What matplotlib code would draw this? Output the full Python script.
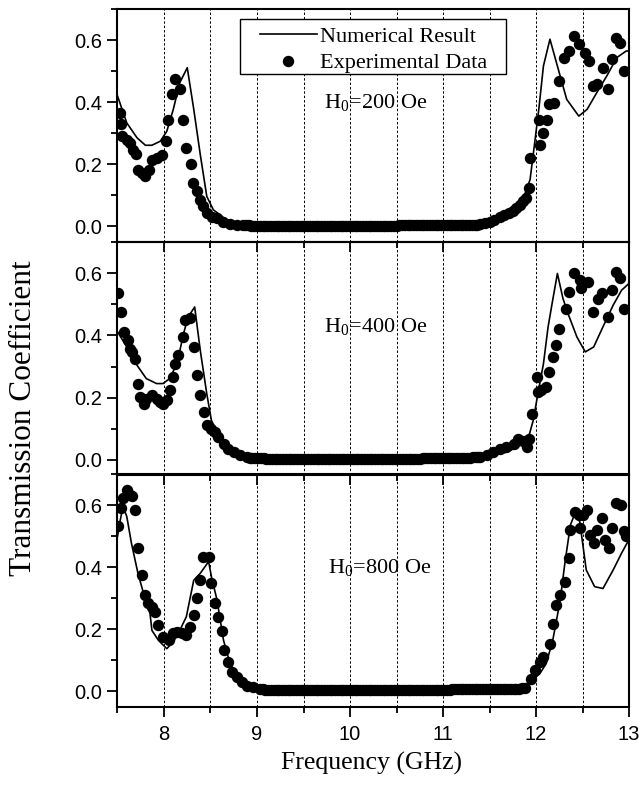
import matplotlib
matplotlib.use("Agg")
import matplotlib.pyplot as plt
from matplotlib.ticker import MultipleLocator, FixedLocator
from matplotlib.lines import Line2D
from matplotlib.patches import Rectangle

# ---------------- data ----------------
freq_ticks = [8, 9, 10, 11, 12, 13]
y_ticks = [0.0, 0.2, 0.4, 0.6]
grid_freqs = [8, 8.5, 9, 9.5, 10, 10.5, 11, 11.5, 12, 12.5]
field_labels = ["H$_0$=200 Oe", "H$_0$=400 Oe", "H$_0$=800 Oe"]
legend_labels = ["Numerical Result", "Experimental Data"]

# ---- H0 = 200 Oe ----
top_num_x = [7.5, 7.6, 7.71, 7.8, 7.87, 7.96, 8.03, 8.1, 8.17, 8.25, 8.32, 8.39, 8.46, 8.53, 8.67, 8.85,
             9.03, 10.0, 11.0, 11.4, 11.6, 11.75, 11.85, 11.936, 11.99, 12.03, 12.08, 12.15, 12.26, 12.33,
             12.46, 12.55, 12.65, 12.76, 12.87, 12.97, 13.0]
top_num_y = [0.421, 0.334, 0.286, 0.262, 0.262, 0.275, 0.307, 0.378, 0.464, 0.512, 0.378, 0.232, 0.097,
             0.054, 0.022, 0.009, 0.003, 0.002, 0.003, 0.006, 0.02, 0.045, 0.08, 0.151, 0.28, 0.378, 0.518,
             0.604, 0.485, 0.41, 0.356, 0.378, 0.43, 0.485, 0.545, 0.566, 0.566]
top_exp_left_x = [7.527, 7.538, 7.552, 7.599, 7.634, 7.670, 7.699, 7.724, 7.760, 7.796, 7.842, 7.867,
                  7.921, 7.975, 8.021, 8.047, 8.082, 8.118, 8.172, 8.200, 8.236, 8.290, 8.315, 8.351,
                  8.387, 8.423, 8.458, 8.512, 8.566, 8.638, 8.710, 8.780]
top_exp_left_y = [0.367, 0.329, 0.291, 0.280, 0.270, 0.248, 0.235, 0.183, 0.173, 0.162, 0.183, 0.216,
                  0.221, 0.232, 0.275, 0.345, 0.426, 0.475, 0.442, 0.345, 0.254, 0.200, 0.140, 0.113,
                  0.086, 0.065, 0.043, 0.032, 0.027, 0.016, 0.009, 0.005]
top_exp_flat_x = [8.85, 8.88, 8.91, 8.94, 8.97, 9.00, 9.03, 9.06, 9.09, 9.12,
                  9.15, 9.18, 9.21, 9.24, 9.27, 9.30, 9.33, 9.36, 9.39, 9.42,
                  9.45, 9.48, 9.51, 9.54, 9.57, 9.60, 9.63, 9.66, 9.69, 9.72,
                  9.75, 9.78, 9.81, 9.84, 9.87, 9.90, 9.93, 9.96, 9.99, 10.02,
                  10.05, 10.08, 10.11, 10.14, 10.17, 10.20, 10.23, 10.26, 10.29, 10.32,
                  10.35, 10.38, 10.41, 10.44, 10.47, 10.50, 10.53, 10.56, 10.59, 10.62,
                  10.65, 10.68, 10.71, 10.74, 10.77, 10.80, 10.83, 10.86, 10.89, 10.92,
                  10.95, 10.98, 11.01, 11.04, 11.07, 11.10, 11.13, 11.16, 11.19, 11.22,
                  11.25, 11.28, 11.31, 11.34, 11.37, 11.40]
top_exp_flat_y = [0.004, 0.004, 0.004, 0.003, 0.003, 0.003, 0.003, 0.003, 0.003, 0.003,
                  0.003, 0.003, 0.003, 0.003, 0.003, 0.003, 0.003, 0.003, 0.003, 0.003,
                  0.003, 0.003, 0.003, 0.003, 0.003, 0.003, 0.003, 0.003, 0.003, 0.003,
                  0.003, 0.003, 0.003, 0.003, 0.003, 0.003, 0.003, 0.003, 0.003, 0.003,
                  0.003, 0.003, 0.003, 0.003, 0.003, 0.003, 0.003, 0.003, 0.003, 0.003,
                  0.003, 0.003, 0.003, 0.003, 0.003, 0.003, 0.004, 0.004, 0.004, 0.005,
                  0.005, 0.005, 0.005, 0.005, 0.005, 0.005, 0.005, 0.005, 0.005, 0.005,
                  0.005, 0.005, 0.005, 0.005, 0.005, 0.005, 0.005, 0.005, 0.005, 0.005,
                  0.005, 0.005, 0.006, 0.006, 0.006, 0.007]
top_exp_right_x = [11.45, 11.50, 11.55, 11.61, 11.66, 11.71, 11.75, 11.79, 11.83, 11.86, 11.89, 11.92,
                   11.94, 12.03, 12.04, 12.07, 12.12, 12.14, 12.19, 12.25, 12.30, 12.36, 12.41, 12.46,
                   12.53, 12.57, 12.61, 12.66, 12.72, 12.77, 12.82, 12.86, 12.90, 12.95]
top_exp_right_y = [0.010, 0.016, 0.022, 0.030, 0.036, 0.043, 0.050, 0.059, 0.070, 0.081, 0.092, 0.124,
                   0.221, 0.345, 0.264, 0.302, 0.345, 0.394, 0.399, 0.469, 0.545, 0.566, 0.615, 0.588,
                   0.561, 0.534, 0.453, 0.458, 0.512, 0.442, 0.539, 0.609, 0.593, 0.502]

# ---- H0 = 400 Oe ----
mid_num_x = [7.5, 7.6, 7.71, 7.81, 7.92, 7.99, 8.06, 8.14, 8.21, 8.26, 8.33, 8.39, 8.46, 8.51, 8.6, 8.71,
             8.85, 9.03, 10.0, 11.0, 11.5, 11.7, 11.85, 11.93, 11.97, 12.02, 12.08, 12.13, 12.17, 12.23,
             12.29, 12.35, 12.44, 12.53, 12.62, 12.72, 12.83, 12.92, 13.0]
mid_num_y = [0.412, 0.363, 0.304, 0.261, 0.245, 0.245, 0.261, 0.309, 0.406, 0.46, 0.492, 0.352, 0.212,
             0.126, 0.072, 0.04, 0.013, 0.002, 0.002, 0.003, 0.01, 0.025, 0.05, 0.083, 0.126, 0.212,
             0.309, 0.428, 0.498, 0.6, 0.519, 0.466, 0.395, 0.347, 0.363, 0.428, 0.498, 0.546, 0.568]
mid_exp_left_x = [7.51, 7.54, 7.57, 7.61, 7.63, 7.66, 7.69, 7.72, 7.74, 7.78, 7.81, 7.87, 7.92, 7.96,
                  7.99, 8.03, 8.06, 8.10, 8.12, 8.15, 8.20, 8.23, 8.28, 8.32, 8.35, 8.39, 8.43, 8.46,
                  8.51, 8.55, 8.58, 8.64, 8.69, 8.75, 8.82, 8.89]
mid_exp_left_y = [0.536, 0.476, 0.412, 0.385, 0.358, 0.347, 0.325, 0.245, 0.202, 0.180, 0.196, 0.207,
                  0.196, 0.185, 0.180, 0.191, 0.223, 0.266, 0.309, 0.336, 0.395, 0.449, 0.455, 0.363,
                  0.272, 0.207, 0.153, 0.110, 0.099, 0.088, 0.072, 0.051, 0.034, 0.024, 0.013, 0.008]
mid_exp_flat_x = [8.92, 8.95, 8.98, 9.01, 9.04, 9.07, 9.10, 9.13, 9.16, 9.19,
                  9.22, 9.25, 9.28, 9.31, 9.34, 9.37, 9.40, 9.43, 9.46, 9.49,
                  9.52, 9.55, 9.58, 9.61, 9.64, 9.67, 9.70, 9.73, 9.76, 9.79,
                  9.82, 9.85, 9.88, 9.91, 9.94, 9.97, 10.00, 10.03, 10.06, 10.09,
                  10.12, 10.15, 10.18, 10.21, 10.24, 10.27, 10.30, 10.33, 10.36, 10.39,
                  10.42, 10.45, 10.48, 10.51, 10.54, 10.57, 10.60, 10.63, 10.66, 10.69,
                  10.72, 10.75, 10.78, 10.81, 10.84, 10.87, 10.90, 10.93, 10.96, 10.99,
                  11.02, 11.05, 11.08, 11.11, 11.14, 11.17, 11.20, 11.23, 11.26, 11.29,
                  11.32, 11.35, 11.38]
mid_exp_flat_y = [0.006, 0.005, 0.005, 0.004, 0.004, 0.004, 0.003, 0.003, 0.003, 0.003,
                  0.003, 0.003, 0.003, 0.003, 0.003, 0.003, 0.003, 0.003, 0.003, 0.003,
                  0.003, 0.003, 0.003, 0.003, 0.003, 0.003, 0.003, 0.003, 0.003, 0.003,
                  0.003, 0.003, 0.003, 0.003, 0.003, 0.003, 0.003, 0.003, 0.003, 0.003,
                  0.003, 0.003, 0.003, 0.003, 0.003, 0.003, 0.003, 0.003, 0.003, 0.003,
                  0.003, 0.003, 0.003, 0.003, 0.003, 0.003, 0.003, 0.003, 0.003, 0.003,
                  0.003, 0.003, 0.004, 0.004, 0.004, 0.004, 0.004, 0.004, 0.004, 0.004,
                  0.005, 0.005, 0.005, 0.005, 0.005, 0.005, 0.006, 0.006, 0.006, 0.006,
                  0.007, 0.007, 0.007]
mid_exp_right_x = [11.40, 11.47, 11.54, 11.61, 11.68, 11.76, 11.81, 11.86, 11.90, 11.93, 11.96, 12.01,
                   12.02, 12.05, 12.11, 12.14, 12.18, 12.22, 12.25, 12.32, 12.36, 12.41, 12.47, 12.48,
                   12.56, 12.61, 12.67, 12.71, 12.77, 12.82, 12.86, 12.90, 12.95]
mid_exp_right_y = [0.008, 0.013, 0.024, 0.034, 0.040, 0.051, 0.067, 0.061, 0.040, 0.067, 0.148, 0.266,
                   0.218, 0.223, 0.234, 0.282, 0.331, 0.369, 0.422, 0.487, 0.541, 0.600, 0.579, 0.552,
                   0.573, 0.476, 0.519, 0.536, 0.460, 0.546, 0.606, 0.584, 0.487]

# ---- H0 = 800 Oe ----
bot_num_x = [7.5, 7.53, 7.56, 7.6, 7.65, 7.72, 7.8, 7.85, 7.87, 7.94, 8.03, 8.1, 8.17, 8.24, 8.32, 8.39,
             8.48, 8.51, 8.57, 8.64, 8.71, 8.82, 9.0, 10.0, 11.0, 11.8, 11.88, 11.96, 12.04, 12.11, 12.18,
             12.26, 12.31, 12.37, 12.42, 12.47, 12.54, 12.63, 12.72, 12.83, 12.92, 13.0]
bot_num_y = [0.5, 0.553, 0.597, 0.564, 0.478, 0.381, 0.295, 0.251, 0.197, 0.165, 0.138, 0.16, 0.197,
             0.241, 0.359, 0.381, 0.419, 0.37, 0.295, 0.165, 0.09, 0.036, 0.003, 0.002, 0.002, 0.006,
             0.014, 0.036, 0.057, 0.09, 0.165, 0.294, 0.413, 0.537, 0.575, 0.548, 0.392, 0.338, 0.332,
             0.392, 0.446, 0.49]
bot_exp_left_x = [7.51, 7.54, 7.56, 7.60, 7.63, 7.66, 7.69, 7.72, 7.76, 7.80, 7.83, 7.87, 7.90, 7.94,
                  7.99, 8.05, 8.10, 8.14, 8.19, 8.24, 8.28, 8.32, 8.35, 8.39, 8.42, 8.48, 8.51, 8.55,
                  8.58, 8.62, 8.65, 8.69, 8.73, 8.78, 8.84, 8.89, 8.96]
bot_exp_left_y = [0.532, 0.591, 0.624, 0.650, 0.634, 0.629, 0.586, 0.462, 0.375, 0.311, 0.284, 0.273,
                  0.257, 0.214, 0.176, 0.165, 0.187, 0.192, 0.187, 0.181, 0.208, 0.246, 0.300, 0.361,
                  0.435, 0.433, 0.351, 0.284, 0.241, 0.195, 0.133, 0.095, 0.063, 0.046, 0.030, 0.019,
                  0.014]
bot_exp_flat_x = [9.03, 9.06, 9.09, 9.12, 9.15, 9.18, 9.21, 9.24, 9.27, 9.30,
                  9.33, 9.36, 9.39, 9.42, 9.45, 9.48, 9.51, 9.54, 9.57, 9.60,
                  9.63, 9.66, 9.69, 9.72, 9.75, 9.78, 9.81, 9.84, 9.87, 9.90,
                  9.93, 9.96, 9.99, 10.02, 10.05, 10.08, 10.11, 10.14, 10.17, 10.20,
                  10.23, 10.26, 10.29, 10.32, 10.35, 10.38, 10.41, 10.44, 10.47, 10.50,
                  10.53, 10.56, 10.59, 10.62, 10.65, 10.68, 10.71, 10.74, 10.77, 10.80,
                  10.83, 10.86, 10.89, 10.92, 10.95, 10.98, 11.01, 11.04, 11.07, 11.10,
                  11.13, 11.16, 11.19, 11.22, 11.25, 11.28, 11.31, 11.34, 11.37, 11.40,
                  11.43, 11.46, 11.49, 11.52, 11.55, 11.58, 11.61, 11.64, 11.67, 11.70,
                  11.73, 11.76, 11.79, 11.82, 11.85, 11.88]
bot_exp_flat_y = [0.009, 0.007, 0.006, 0.005, 0.005, 0.004, 0.004, 0.004, 0.004, 0.004,
                  0.004, 0.004, 0.004, 0.004, 0.004, 0.004, 0.004, 0.004, 0.004, 0.004,
                  0.004, 0.004, 0.004, 0.004, 0.004, 0.004, 0.004, 0.004, 0.004, 0.004,
                  0.004, 0.004, 0.004, 0.004, 0.004, 0.004, 0.004, 0.004, 0.004, 0.004,
                  0.004, 0.004, 0.004, 0.004, 0.004, 0.004, 0.004, 0.004, 0.004, 0.004,
                  0.004, 0.004, 0.004, 0.005, 0.005, 0.005, 0.005, 0.005, 0.005, 0.005,
                  0.005, 0.005, 0.005, 0.005, 0.005, 0.005, 0.006, 0.006, 0.006, 0.007,
                  0.008, 0.008, 0.008, 0.008, 0.008, 0.008, 0.008, 0.008, 0.008, 0.008,
                  0.008, 0.008, 0.008, 0.008, 0.008, 0.008, 0.008, 0.008, 0.008, 0.008,
                  0.008, 0.009, 0.009, 0.009, 0.010, 0.010]
bot_exp_right_x = [11.95, 11.99, 12.04, 12.07, 12.15, 12.18, 12.22, 12.26, 12.31, 12.35, 12.37, 12.42,
                   12.46, 12.47, 12.51, 12.55, 12.58, 12.62, 12.66, 12.71, 12.74, 12.78, 12.82, 12.86,
                   12.91, 12.95, 12.97]
bot_exp_right_y = [0.041, 0.068, 0.095, 0.111, 0.154, 0.219, 0.278, 0.311, 0.354, 0.429, 0.521, 0.580,
                   0.570, 0.526, 0.570, 0.586, 0.505, 0.478, 0.521, 0.559, 0.489, 0.462, 0.526, 0.607,
                   0.602, 0.516, 0.500]

# ---------------- figure ----------------
plt.rcParams["font.family"] = ["Liberation Sans", "DejaVu Sans"]
plt.rcParams["mathtext.fontset"] = "custom"
plt.rcParams["mathtext.rm"] = "Liberation Serif"
plt.rcParams["mathtext.it"] = "Liberation Serif:italic"
plt.rcParams["mathtext.default"] = "rm"

SERIF = "Liberation Serif"

fig = plt.figure(figsize=(6.41, 7.87), dpi=100)
left, width = 0.1833, 0.798
bottoms = [0.6925, 0.3964, 0.1017]
height = 0.2955

panels = [
    (top_num_x, top_num_y,
     top_exp_left_x + top_exp_flat_x + top_exp_right_x,
     top_exp_left_y + top_exp_flat_y + top_exp_right_y,
     field_labels[0], (10.27, 0.40)),
    (mid_num_x, mid_num_y,
     mid_exp_left_x + mid_exp_flat_x + mid_exp_right_x,
     mid_exp_left_y + mid_exp_flat_y + mid_exp_right_y,
     field_labels[1], (10.28, 0.43)),
    (bot_num_x, bot_num_y,
     bot_exp_left_x + bot_exp_flat_x + bot_exp_right_x,
     bot_exp_left_y + bot_exp_flat_y + bot_exp_right_y,
     field_labels[2], (10.32, 0.40)),
]

axes = []
for i, (nx, ny, ex, ey, lab, pos) in enumerate(panels):
    ax = fig.add_axes([left, bottoms[i], width, height])
    ax.patch.set_visible(False)
    ax.plot(ex, ey, linestyle="none", marker="o", ms=7.2, color="black", zorder=3)
    ax.plot(nx, ny, color="black", lw=1.2, zorder=4)
    ax.set_xlim(7.5, 13)
    ax.set_ylim(-0.05, 0.70)
    ax.xaxis.set_major_locator(FixedLocator(freq_ticks))
    ax.xaxis.set_minor_locator(MultipleLocator(0.5))
    ax.yaxis.set_major_locator(FixedLocator(y_ticks))
    ax.yaxis.set_minor_locator(MultipleLocator(0.1))
    ax.tick_params(which="major", direction="out", length=7, width=1.3, labelsize=14.5, pad=4)
    ax.tick_params(which="minor", direction="out", length=4, width=1.3)
    ax.tick_params(axis="both", top=False, right=False)
    ax.tick_params(axis="x", pad=6)
    ax.set_yticklabels([f"{v:.1f}" for v in y_ticks])
    for s in ax.spines.values():
        s.set_linewidth(1.5)
    for gx in grid_freqs:
        ax.axvline(gx, color="black", lw=0.7, linestyle=(0, (2.5, 2)), zorder=1)
    ax.text(pos[0], pos[1], lab, fontfamily=SERIF, fontsize=16, ha="center", va="center")
    if i < 2:
        ax.tick_params(axis="x", labelbottom=False)
    else:
        ax.set_xticklabels([str(v) for v in freq_ticks])
    axes.append(ax)

# legend box (white, black edge) and legend entries
box = Rectangle((0.2395, 0.721), 0.52, 0.236, transform=axes[0].transAxes,
                facecolor="white", edgecolor="black", lw=1.0, zorder=9)
axes[0].add_patch(box)
handles = [Line2D([], [], color="black", lw=1.2),
           Line2D([], [], linestyle="none", marker="o", ms=7.2, color="black")]
leg = axes[0].legend(handles, legend_labels, loc="upper left",
                     bbox_to_anchor=(0.2786, 0.928), frameon=False,
                     prop={"family": SERIF, "size": 16}, handlelength=2.55, handletextpad=0.15,
                     borderpad=0.0, labelspacing=0.27, borderaxespad=0.0)
leg.set_zorder(10)

fig.text(0.0374, 0.469, "Transmission Coefficient", rotation=90, fontfamily=SERIF,
         fontsize=22.5, ha="center", va="center")
fig.text(0.579, 0.0305, "Frequency (GHz)", fontfamily=SERIF, fontsize=18.5,
         ha="center", va="center")

fig.savefig("out.png", dpi=100, facecolor="white")
